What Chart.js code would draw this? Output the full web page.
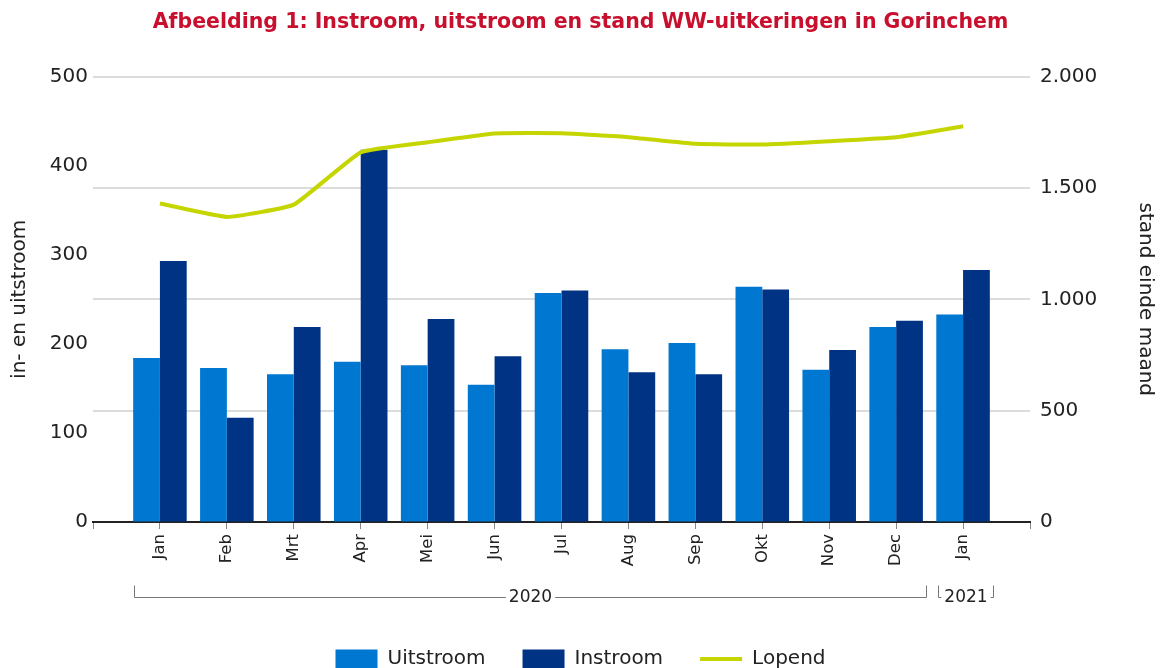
<!DOCTYPE html>
<html>
<head>
<meta charset="utf-8">
<script src="https://cdn.jsdelivr.net/npm/chart.js@4/dist/chart.umd.min.js"></script>
<style>
  html, body { margin: 0; padding: 0; background: #fff; }
  #wrap { width: 1161px; height: 668px; }
</style>
</head>
<body>
<div id="wrap"><canvas id="ww" width="1161" height="668"></canvas></div>
<script>
// maanden (categorieen)
const months = ['Jan', 'Feb', 'Mrt', 'Apr', 'Mei', 'Jun', 'Jul', 'Aug', 'Sep', 'Okt', 'Nov', 'Dec', 'Jan'];
const uitstroom = [184, 173, 166, 180, 176, 154, 257, 194, 201, 264, 171, 219, 233];
const instroom = [293, 117, 219, 418, 228, 186, 260, 168, 166, 261, 193, 226, 283];
const lopend = [1430, 1370, 1425, 1660, 1705, 1745, 1746, 1728, 1698, 1695, 1710, 1728, 1777];
// jaren onder de as
const years = ['2020', '2021'];
const yearFrom = [0, 12];
const yearTo = [11, 12];

const FONT = 'DejaVu Sans, Verdana, sans-serif';
const TXT = '#222';

const dots = v => String(v).replace(/\B(?=(\d{3})+(?!\d))/g, '.');
const xy = arr => arr.map((v, i) => ({ x: i, y: v }));

// jaartallen met haken onder de maandlabels
const yearBrackets = {
  id: 'yearBrackets',
  afterDraw(chart) {
    const x = chart.scales.x;
    const ctx = chart.ctx;
    const y = 597.5;
    ctx.save();
    ctx.strokeStyle = '#777';
    ctx.lineWidth = 1;
    ctx.font = '17px ' + FONT;
    ctx.fillStyle = TXT;
    ctx.textAlign = 'center';
    ctx.textBaseline = 'middle';
    years.forEach((yr, i) => {
      const l = Math.round(x.getPixelForValue(yearFrom[i] - 0.38)) + 0.5;
      const r = Math.round(x.getPixelForValue(yearTo[i] + 0.45)) + 0.5;
      const mid = (l + r) / 2;
      const half = ctx.measureText(yr).width / 2 + 3;
      ctx.beginPath();
      ctx.moveTo(l, y - 12); ctx.lineTo(l, y);
      if (mid - half > l) { ctx.lineTo(mid - half, y); }
      ctx.moveTo(r, y - 12); ctx.lineTo(r, y);
      if (mid + half < r) { ctx.lineTo(mid + half, y); }
      ctx.stroke();
      ctx.fillText(yr, mid, y);
    });
    ctx.restore();
  }
};

new Chart(document.getElementById('ww'), {
  type: 'bar',
  data: {
    datasets: [
      { label: 'Uitstroom', data: xy(uitstroom), backgroundColor: '#0077d0', yAxisID: 'y', order: 1 },
      { label: 'Instroom', data: xy(instroom), backgroundColor: '#003383', yAxisID: 'y', order: 1 },
      { type: 'line', label: 'Lopend', data: xy(lopend), borderColor: '#c5d500', backgroundColor: '#c5d500',
        borderWidth: 4, pointRadius: 0, tension: 0.12, yAxisID: 'y2', order: 0 }
    ]
  },
  options: {
    responsive: false,
    animation: false,
    categoryPercentage: 0.8,
    barPercentage: 1.0,
    layout: { padding: { left: 0, right: 0, top: 0, bottom: 0 } },
    plugins: {
      tooltip: { enabled: false },
      title: {
        display: true,
        text: 'Afbeelding 1: Instroom, uitstroom en stand WW-uitkeringen in Gorinchem',
        color: '#c8102e',
        font: { family: FONT, size: 20.5, weight: 'bold' },
        padding: { top: 10, bottom: 42 }
      },
      legend: {
        position: 'bottom',
        maxHeight: 56,
        labels: {
          color: TXT,
          font: { family: FONT, size: 20 },
          usePointStyle: true,
          pointStyleWidth: 42,
          boxHeight: 19,
          padding: 37,
          sort: (a, b) => a.datasetIndex - b.datasetIndex,
          generateLabels: chart => Chart.defaults.plugins.legend.labels.generateLabels(chart).map(it => {
            const line = it.datasetIndex === 2;
            return Object.assign(it, { pointStyle: line ? 'line' : 'rect', lineWidth: line ? 4 : 0 });
          })
        }
      }
    },
    scales: {
      x: {
        type: 'linear',
        offset: false,
        min: -1,
        max: 13,
        afterBuildTicks: s => { s.ticks = [-1].concat(months.map((m, i) => i), [13]).map(v => ({ value: v })); },
        afterFit: s => { s.height = 90; },
        border: { display: true, color: '#222', width: 2 },
        grid: { offset: false, drawOnChartArea: false, drawTicks: true, tickLength: 7, color: '#888' },
        ticks: {
          autoSkip: false,
          minRotation: 90,
          maxRotation: 90,
          padding: 5,
          color: TXT,
          font: { family: FONT, size: 16.5 },
          callback: v => (Number.isInteger(v) && v >= 0 && v < months.length) ? months[v] : ''
        }
      },
      y: {
        position: 'left',
        min: 0,
        max: 500,
        afterFit: s => { s.width = 93; },
        border: { display: false },
        grid: { drawOnChartArea: false, drawTicks: false },
        ticks: { stepSize: 100, padding: 5, color: TXT, font: { family: FONT, size: 20 } },
        title: { display: true, text: 'in- en uitstroom', color: TXT, font: { family: FONT, size: 20 }, padding: { top: 8, bottom: 0 } }
      },
      y2: {
        position: 'right',
        min: 0,
        max: 2000,
        afterFit: s => { s.width = 131; },
        border: { display: false },
        grid: { drawOnChartArea: true, drawTicks: false, color: '#dcdcdc', lineWidth: 2 },
        ticks: { stepSize: 500, padding: 10, color: TXT, font: { family: FONT, size: 20 }, callback: v => dots(v) },
        title: { display: true, text: 'stand einde maand', color: TXT, font: { family: FONT, size: 20 }, padding: { top: 4, bottom: 0 } }
      }
    }
  },
  plugins: [yearBrackets]
});
</script>
</body>
</html>
